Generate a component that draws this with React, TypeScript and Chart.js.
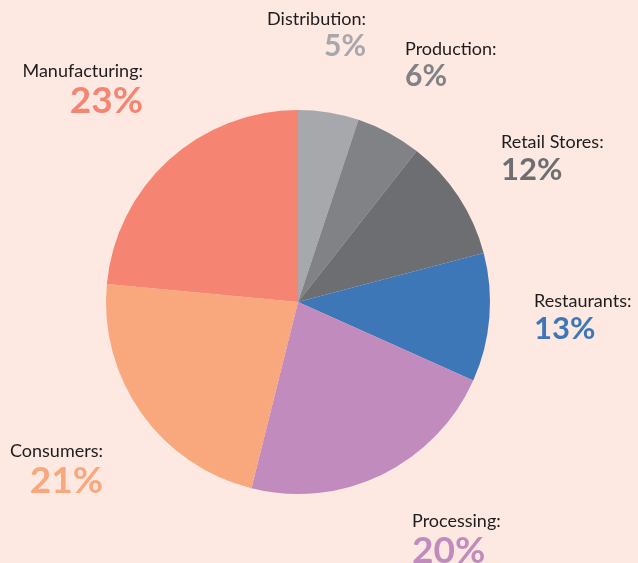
import React, { useEffect, useRef } from "react";
import { Chart, registerables } from "chart.js";

Chart.register(...registerables);

const CATEGORIES = ["Distribution", "Production", "Retail Stores", "Restaurants", "Processing", "Consumers", "Manufacturing"];
// slice shares as drawn in the picture (angles), clockwise from 12 o'clock
const SLICE_SHARES = [5.1, 5.5, 10.3, 10.8, 22.2, 22.6, 23.5];
// percentages printed on the picture
const PERCENT_LABELS = ["5%", "6%", "12%", "13%", "20%", "21%", "23%"];
const COLORS = ["#a7a8ab", "#808285", "#6d6e71", "#3e77b8", "#c18bbe", "#f8a87c", "#f58572"];

const BG = "#fde8e2";

// text anchors and sizes for the outside labels (name baseline)
const LABEL_LAYOUT = [
  { x: 366, y: 25, align: "right", pct: 30, gap: 31 },
  { x: 405, y: 55, align: "left", pct: 30, gap: 31 },
  { x: 501, y: 148, align: "left", pct: 31, gap: 31.5 },
  { x: 534, y: 307, align: "left", pct: 31, gap: 32 },
  { x: 412, y: 527, align: "left", pct: 37, gap: 36 },
  { x: 103, y: 457, align: "right", pct: 37, gap: 36 },
  { x: 143, y: 77, align: "right", pct: 37, gap: 36 },
];

const labelPlugin = {
  id: "outsideLabels",
  afterDraw(chart: any) {
    const ctx = chart.ctx as CanvasRenderingContext2D;
    ctx.save();
    ctx.textBaseline = "alphabetic";
    CATEGORIES.forEach((name, i) => {
      const l = LABEL_LAYOUT[i];
      ctx.textAlign = l.align as CanvasTextAlign;
      ctx.fillStyle = "#1f1c1d";
      ctx.font = "18px Lato";
      ctx.fillText(name + ":", l.x, l.y);
      ctx.fillStyle = COLORS[i];
      ctx.font = `bold ${l.pct}px Lato`;
      ctx.fillText(PERCENT_LABELS[i], l.x, l.y + l.gap);
    });
    ctx.restore();
  },
};

export default function App() {
  const ref = useRef<HTMLCanvasElement | null>(null);
  useEffect(() => {
    document.body.style.margin = "0";
    document.body.style.background = BG;
    const chart = new Chart(ref.current!, {
      type: "pie",
      data: {
        labels: CATEGORIES,
        datasets: [
          {
            data: SLICE_SHARES,
            backgroundColor: COLORS,
            borderWidth: 0,
          },
        ],
      },
      options: {
        animation: false,
        responsive: false,
        maintainAspectRatio: false,
        layout: { padding: { left: 106, right: 148, top: 110, bottom: 69 } },
        plugins: {
          legend: { display: false },
          tooltip: { enabled: false },
        },
      },
      plugins: [labelPlugin],
    });
    return () => chart.destroy();
  }, []);
  return (
    <div style={{ width: 638, height: 563, background: BG }}>
      <canvas ref={ref} width={638} height={563} style={{ display: "block" }} />
    </div>
  );
}
